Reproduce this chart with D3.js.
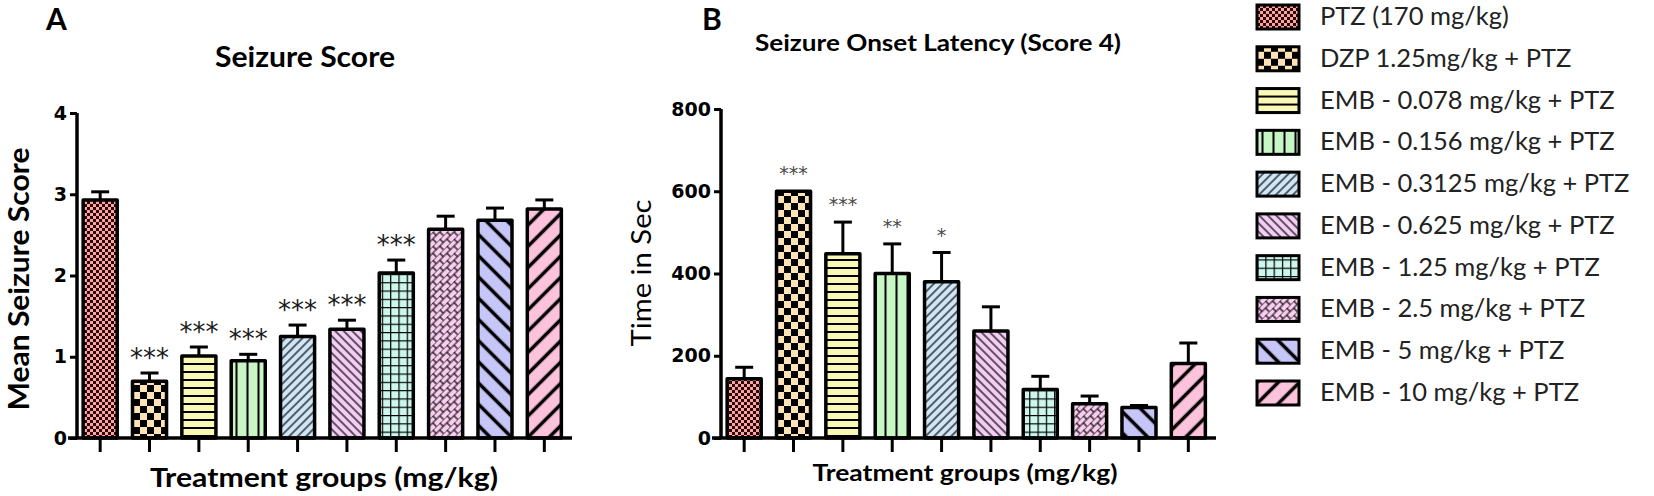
<!DOCTYPE html>
<html>
<head>
<meta charset="utf-8">
<script src="https://cdn.jsdelivr.net/npm/d3@7"></script>
<style>
  body { margin: 0; background: #fff; }
  svg { display: block; }
</style>
</head>
<body>
<div id="chart"></div>
<script>
const GROUPS = [
  "PTZ (170 mg/kg)",
  "DZP 1.25mg/kg + PTZ",
  "EMB - 0.078 mg/kg + PTZ",
  "EMB - 0.156 mg/kg + PTZ",
  "EMB - 0.3125 mg/kg + PTZ",
  "EMB - 0.625 mg/kg + PTZ",
  "EMB - 1.25 mg/kg + PTZ",
  "EMB - 2.5 mg/kg + PTZ",
  "EMB - 5 mg/kg + PTZ",
  "EMB - 10 mg/kg + PTZ"
];

// panel A: seizure score
const SCORE_MEAN = [2.93, 0.70, 1.01, 0.95, 1.25, 1.34, 2.03, 2.57, 2.68, 2.82];
const SCORE_SEM = [0.10, 0.10, 0.11, 0.08, 0.14, 0.11, 0.16, 0.16, 0.15, 0.11];
const SCORE_STARS = ["", "***", "***", "***", "***", "***", "***", "", "", ""];
const SCORE_TICKS = [0, 1, 2, 3, 4];

// panel B: onset latency (s)
const LATENCY_MEAN = [144, 600, 448, 400, 380, 260, 118, 83, 74, 181];
const LATENCY_SEM = [28, 0, 77, 72, 71, 59, 32, 19, 5, 50];
const LATENCY_STARS = ["", "***", "***", "**", "*", "", "", "", "", ""];
const LATENCY_TICKS = [0, 200, 400, 600, 800];

const WIDTH = 1654;
const HEIGHT = 496;
const TEXT_FONT = "Lato, 'Open Sans', sans-serif";
const NUM_FONT = "'DejaVu Sans', sans-serif";

const svg = d3.select("#chart")
  .append("svg")
  .attr("width", WIDTH)
  .attr("height", HEIGHT);

const defs = svg.append("defs");

// one pattern per treatment group
function linePattern(id, bg, size, angle, strokeWidth) {
  const p = defs.append("pattern")
    .attr("id", id)
    .attr("patternUnits", "userSpaceOnUse")
    .attr("width", size)
    .attr("height", size)
    .attr("patternTransform", `rotate(${angle})`);
  p.append("rect").attr("width", size).attr("height", size).attr("fill", bg);
  p.append("line")
    .attr("x1", size / 2).attr("x2", size / 2)
    .attr("y1", 0).attr("y2", size)
    .attr("stroke", "#000")
    .attr("stroke-width", strokeWidth);
}

function checkerPattern(id, bg, fg, cell) {
  const p = defs.append("pattern")
    .attr("id", id)
    .attr("patternUnits", "userSpaceOnUse")
    .attr("width", cell * 2)
    .attr("height", cell * 2);
  p.append("rect").attr("width", cell * 2).attr("height", cell * 2).attr("fill", bg);
  p.append("rect").attr("width", cell).attr("height", cell).attr("fill", fg);
  p.append("rect").attr("x", cell).attr("y", cell).attr("width", cell).attr("height", cell).attr("fill", fg);
}

checkerPattern("pat0", "#fca4a4", "#2a0808", 3);
checkerPattern("pat1", "#fde3b5", "#000", 7);
linePattern("pat2", "#f9f8b4", 8, 90, 2);
linePattern("pat3", "#c8f6c4", 11, 0, 2);
linePattern("pat4", "#cfe6f7", 6, 45, 1.2);
linePattern("pat5", "#f3cdf3", 6, -45, 1.2);

const grid = defs.append("pattern")
  .attr("id", "pat6")
  .attr("patternUnits", "userSpaceOnUse")
  .attr("width", 8.3)
  .attr("height", 8.3);
grid.append("rect").attr("width", 8.3).attr("height", 8.3).attr("fill", "#cdf7ec");
grid.append("path").attr("d", "M0,0H8.3M0,0V8.3").attr("stroke", "#000").attr("stroke-width", 2.4);

const brick = defs.append("pattern")
  .attr("id", "pat7")
  .attr("patternUnits", "userSpaceOnUse")
  .attr("width", 10)
  .attr("height", 10)
  .attr("patternTransform", "rotate(-45)");
brick.append("rect").attr("width", 10).attr("height", 10).attr("fill", "#f9cdef");
brick.append("path")
  .attr("d", "M0,0H10M0,5H10M2,0V5M7,5V10")
  .attr("stroke", "#000")
  .attr("stroke-width", 1.2);

linePattern("pat8", "#c6c6f8", 15, -45, 3.5);
linePattern("pat9", "#fdc2dc", 15, 45, 3.5);

const fillFor = i => `url(#pat${i})`;

function drawPanel(opts) {
  const g = svg.append("g");
  const idx = d3.range(opts.means.length);

  const x = d3.scaleBand()
    .domain(idx)
    .range(opts.xRange)
    .paddingInner(0.31)
    .paddingOuter(0.155);

  const y = d3.scaleLinear()
    .domain(opts.yDomain)
    .range([438, opts.yTop]);

  const x0 = opts.xRange[0] + 1.5;

  // bars
  g.selectAll("rect.bar")
    .data(idx)
    .join("rect")
    .attr("class", "bar")
    .attr("x", i => x(i))
    .attr("y", i => y(opts.means[i]))
    .attr("width", x.bandwidth())
    .attr("height", i => y(0) - y(opts.means[i]))
    .attr("fill", fillFor)
    .attr("stroke", "#000")
    .attr("stroke-width", 3.5)
    .attr("stroke-linejoin", "round");

  // upper error bars
  const err = g.selectAll("g.err")
    .data(idx.filter(i => opts.sems[i] > 0))
    .join("g")
    .attr("class", "err");

  err.append("line")
    .attr("x1", i => x(i) + x.bandwidth() / 2)
    .attr("x2", i => x(i) + x.bandwidth() / 2)
    .attr("y1", i => y(opts.means[i]))
    .attr("y2", i => y(opts.means[i] + opts.sems[i]))
    .attr("stroke", "#000")
    .attr("stroke-width", 3);

  err.append("line")
    .attr("x1", i => x(i) + x.bandwidth() / 2 - 9)
    .attr("x2", i => x(i) + x.bandwidth() / 2 + 9)
    .attr("y1", i => y(opts.means[i] + opts.sems[i]))
    .attr("y2", i => y(opts.means[i] + opts.sems[i]))
    .attr("stroke", "#000")
    .attr("stroke-width", 3);

  // significance stars
  g.selectAll("text.star")
    .data(idx.filter(i => opts.stars[i]))
    .join("text")
    .attr("class", "star")
    .attr("x", i => x(i) + x.bandwidth() / 2)
    .attr("y", i => y(opts.means[i] + opts.sems[i]) - opts.starGap)
    .attr("text-anchor", "middle")
    .attr("font-family", NUM_FONT)
    .attr("font-size", opts.starSize)
    .attr("fill", opts.starColor)
    .text(i => opts.stars[i]);

  // y axis
  const yAxis = g.append("g")
    .attr("transform", `translate(${x0},0)`)
    .call(d3.axisLeft(y).tickValues(opts.ticks).tickSize(7).tickPadding(3).tickFormat(d3.format("d")));
  yAxis.select(".domain").attr("d", `M0,${y(opts.yDomain[1])}V${y(0)}`)
    .attr("stroke-width", 3.5);
  yAxis.selectAll(".tick line").attr("stroke-width", 3);
  yAxis.selectAll(".tick text")
    .attr("font-family", NUM_FONT)
    .attr("font-weight", "bold")
    .attr("font-size", 19)
    .attr("fill", "#000");

  // x axis with ticks below each bar
  const xAxis = g.append("g")
    .attr("transform", `translate(0,${y(0)})`)
    .call(d3.axisBottom(x).tickSize(14).tickFormat(""));
  xAxis.select(".domain").attr("d", `M${x0 - 9},0H${opts.xRange[1] + 3}`)
    .attr("stroke-width", 3.5);
  xAxis.selectAll(".tick line").attr("stroke-width", 3);

  // panel letter and titles
  g.append("text")
    .attr("x", opts.letterX)
    .attr("y", 30)
    .attr("font-family", TEXT_FONT)
    .attr("font-weight", "bold")
    .attr("font-size", 30)
    .text(opts.letter);

  g.append("text")
    .attr("x", opts.titleX)
    .attr("y", opts.titleY)
    .attr("text-anchor", "middle")
    .attr("font-family", TEXT_FONT)
    .attr("font-weight", "bold")
    .attr("font-size", opts.titleSize)
    .attr("textLength", opts.titleWidth)
    .attr("lengthAdjust", "spacingAndGlyphs")
    .text(opts.title);

  g.append("text")
    .attr("transform", `translate(${opts.yLabelX},${opts.yLabelY}) rotate(-90)`)
    .attr("text-anchor", "middle")
    .attr("font-family", TEXT_FONT)
    .attr("font-weight", opts.yLabelWeight)
    .attr("font-size", opts.yLabelSize)
    .attr("textLength", opts.yLabelWidth)
    .attr("lengthAdjust", "spacingAndGlyphs")
    .text(opts.yLabel);

  g.append("text")
    .attr("x", opts.xLabelX)
    .attr("y", opts.xLabelY)
    .attr("text-anchor", "middle")
    .attr("font-family", TEXT_FONT)
    .attr("font-weight", "bold")
    .attr("font-size", opts.xLabelSize)
    .attr("textLength", opts.xLabelWidth)
    .attr("lengthAdjust", "spacingAndGlyphs")
    .text("Treatment groups (mg/kg)");
}

drawPanel({
  means: SCORE_MEAN,
  sems: SCORE_SEM,
  stars: SCORE_STARS,
  ticks: SCORE_TICKS,
  yDomain: [0, 4],
  yTop: 113,
  xRange: [75.5, 569],
  starGap: 6,
  starSize: 26,
  starColor: "#1a1a1a",
  letter: "A",
  letterX: 46,
  title: "Seizure Score",
  titleX: 305,
  titleY: 67,
  titleSize: 28,
  titleWidth: 180,
  yLabel: "Mean Seizure Score",
  yLabelX: 29,
  yLabelY: 279,
  yLabelSize: 28,
  yLabelWidth: 263,
  yLabelWeight: "bold",
  xLabelX: 324,
  xLabelY: 487,
  xLabelSize: 27,
  xLabelWidth: 348
});

drawPanel({
  means: LATENCY_MEAN,
  sems: LATENCY_SEM,
  stars: LATENCY_STARS,
  ticks: LATENCY_TICKS,
  yDomain: [0, 800],
  yTop: 109,
  xRange: [719.5, 1213],
  starGap: 11,
  starSize: 19,
  starColor: "#4a4a4a",
  letter: "B",
  letterX: 702,
  title: "Seizure Onset Latency (Score 4)",
  titleX: 938,
  titleY: 51,
  titleSize: 23,
  titleWidth: 366,
  yLabel: "Time in Sec",
  yLabelX: 651,
  yLabelY: 273,
  yLabelSize: 26,
  yLabelWidth: 147,
  yLabelWeight: "normal",
  xLabelX: 965,
  xLabelY: 481,
  xLabelSize: 23,
  xLabelWidth: 305
});

// legend
const legendY = d3.scalePoint()
  .domain(d3.range(GROUPS.length))
  .range([17, 393]);

const legend = svg.append("g")
  .selectAll("g")
  .data(GROUPS)
  .join("g")
  .attr("transform", (d, i) => `translate(1257,${legendY(i)})`);

legend.append("rect")
  .attr("x", 0)
  .attr("y", -12)
  .attr("width", 42)
  .attr("height", 24)
  .attr("fill", (d, i) => fillFor(i))
  .attr("stroke", "#000")
  .attr("stroke-width", 3);

legend.append("text")
  .attr("x", 63)
  .attr("y", 8)
  .attr("font-family", TEXT_FONT)
  .attr("font-size", 25.5)
  .attr("fill", "#222")
  .text(d => d);
</script>
</body>
</html>
